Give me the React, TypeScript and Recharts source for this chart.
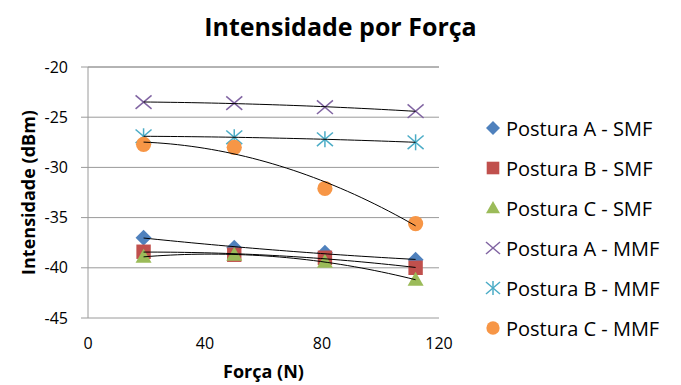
import React from 'react';
import { ComposedChart, Scatter, XAxis, YAxis, CartesianGrid } from 'recharts';

// Força (N) at each measurement
const forca = [19, 50, 81, 112];

// Intensidade (dBm) per posture / fibre
const posturaASMF = [-37.0, -38.0, -38.5, -39.2];
const posturaBSMF = [-38.4, -38.7, -39.0, -40.0];
const posturaCSMF = [-38.9, -38.7, -39.4, -41.2];
const posturaAMMF = [-23.5, -23.6, -24.0, -24.4];
const posturaBMMF = [-26.9, -27.0, -27.2, -27.5];
const posturaCMMF = [-27.7, -28.0, -32.1, -35.6];

const xTicks = [0, 40, 80, 120];
const yTicks = [-45, -40, -35, -30, -25, -20];

const FONT = '"Open Sans", sans-serif';
const AXIS = '#9a9a9a';

type ShapeKind = 'diamond' | 'square' | 'triangle' | 'x' | 'asterisk' | 'circle';

const series: { name: string; values: number[]; color: string; shape: ShapeKind }[] = [
  { name: 'Postura A - SMF', values: posturaASMF, color: '#4F81BD', shape: 'diamond' },
  { name: 'Postura B - SMF', values: posturaBSMF, color: '#C0504D', shape: 'square' },
  { name: 'Postura C - SMF', values: posturaCSMF, color: '#9BBB59', shape: 'triangle' },
  { name: 'Postura A - MMF', values: posturaAMMF, color: '#8064A2', shape: 'x' },
  { name: 'Postura B - MMF', values: posturaBMMF, color: '#4BACC6', shape: 'asterisk' },
  { name: 'Postura C - MMF', values: posturaCMMF, color: '#F79646', shape: 'circle' },
];

function marker(kind: ShapeKind, color: string, cx: number, cy: number, s: number) {
  switch (kind) {
    case 'diamond':
      return <polygon points={`${cx},${cy - s} ${cx + s},${cy} ${cx},${cy + s} ${cx - s},${cy}`} fill={color} />;
    case 'square':
      return <rect x={cx - s * 0.9} y={cy - s * 0.9} width={s * 1.8} height={s * 1.8} fill={color} />;
    case 'triangle':
      return <polygon points={`${cx},${cy - s} ${cx + s},${cy + s * 0.75} ${cx - s},${cy + s * 0.75}`} fill={color} />;
    case 'x':
      return (
        <g stroke={color} strokeWidth={1.5}>
          <line x1={cx - s} y1={cy - s * 0.85} x2={cx + s} y2={cy + s * 0.85} />
          <line x1={cx - s} y1={cy + s * 0.85} x2={cx + s} y2={cy - s * 0.85} />
        </g>
      );
    case 'asterisk':
      return (
        <g stroke={color} strokeWidth={1.5}>
          <line x1={cx - s} y1={cy - s * 0.85} x2={cx + s} y2={cy + s * 0.85} />
          <line x1={cx - s} y1={cy + s * 0.85} x2={cx + s} y2={cy - s * 0.85} />
          <line x1={cx} y1={cy - s} x2={cx} y2={cy + s} />
        </g>
      );
    default:
      return <circle cx={cx} cy={cy} r={s * 0.95} fill={color} />;
  }
}

// second-order polynomial trend line (least squares), as in the spreadsheet
function trend(xs: number[], ys: number[]) {
  let n = xs.length, s1 = 0, s2 = 0, s3 = 0, s4 = 0, t0 = 0, t1 = 0, t2 = 0;
  xs.forEach((x, i) => {
    const y = ys[i];
    s1 += x; s2 += x * x; s3 += x * x * x; s4 += x * x * x * x;
    t0 += y; t1 += x * y; t2 += x * x * y;
  });
  const det = (m: number[][]) =>
    m[0][0] * (m[1][1] * m[2][2] - m[1][2] * m[2][1]) -
    m[0][1] * (m[1][0] * m[2][2] - m[1][2] * m[2][0]) +
    m[0][2] * (m[1][0] * m[2][1] - m[1][1] * m[2][0]);
  const A = [[n, s1, s2], [s1, s2, s3], [s2, s3, s4]];
  const b = [t0, t1, t2];
  const D = det(A);
  const coef = [0, 1, 2].map((k) => det(A.map((row, r) => row.map((v, c) => (c === k ? b[r] : v)))) / D);
  const lo = Math.min(...xs), hi = Math.max(...xs);
  const pts = [];
  for (let i = 0; i <= 40; i++) {
    const x = lo + ((hi - lo) * i) / 40;
    pts.push({ x, y: coef[0] + coef[1] * x + coef[2] * x * x });
  }
  return pts;
}

export default function App() {
  return (
    <div style={{ position: 'absolute', left: 0, top: 0, width: 681, height: 385, background: '#fff', fontFamily: FONT }}>
      <div style={{ position: 'absolute', left: 0, width: 681, top: 8, textAlign: 'center', fontSize: 25, fontWeight: 700, lineHeight: '36px' }}>
        Intensidade por Força
      </div>
      <ComposedChart width={681} height={385} margin={{ top: 67, right: 242, bottom: 0, left: 24 }}>
        <CartesianGrid vertical={false} stroke={AXIS} />
        <XAxis
          dataKey="x"
          type="number"
          domain={[0, 120]}
          ticks={xTicks}
          height={67}
          axisLine={false}
          tickLine={false}
          tickMargin={14}
          tick={{ fill: '#000', fontSize: 16, fontFamily: FONT }}
          label={{ value: 'Força (N)', position: 'insideBottom', offset: 7, fill: '#000', fontSize: 18, fontWeight: 700, fontFamily: FONT }}
        />
        <XAxis
          xAxisId="top"
          dataKey="x"
          type="number"
          orientation="top"
          mirror
          domain={[0, 120]}
          ticks={xTicks}
          stroke={AXIS}
          tickSize={6}
          tickFormatter={() => ''}
        />
        <YAxis
          dataKey="y"
          type="number"
          domain={[-45, -20]}
          ticks={yTicks}
          width={64}
          stroke={AXIS}
          tickSize={7}
          tickMargin={13}
          tick={{ fill: '#000', fontSize: 16, fontFamily: FONT }}
          label={{ value: 'Intensidade (dBm)', angle: -90, position: 'insideLeft', offset: 5, fill: '#000', fontSize: 18, fontWeight: 700, fontFamily: FONT, style: { textAnchor: 'middle' } }}
        />
        {series.map((s) => (
          <Scatter
            key={s.name}
            name={s.name}
            data={forca.map((x, i) => ({ x, y: s.values[i] }))}
            isAnimationActive={false}
            shape={(p: any) => marker(s.shape, s.color, p.cx, p.cy, 8)}
          />
        ))}
        {series.map((s) => (
          <Scatter
            key={s.name + '-trend'}
            data={trend(forca, s.values)}
            isAnimationActive={false}
            line={{ stroke: '#000', strokeWidth: 1 }}
            shape={() => <g />}
            legendType="none"
          />
        ))}
      </ComposedChart>
      <div style={{ position: 'absolute', left: 484, top: 108 }}>
        {series.map((s) => (
          <div key={s.name} style={{ display: 'flex', alignItems: 'center', height: 40 }}>
            <svg width={18} height={18} style={{ marginRight: 4 }}>
              {marker(s.shape, s.color, 9, 9, 7)}
            </svg>
            <span style={{ fontSize: 20, whiteSpace: 'nowrap' }}>{s.name}</span>
          </div>
        ))}
      </div>
    </div>
  );
}
